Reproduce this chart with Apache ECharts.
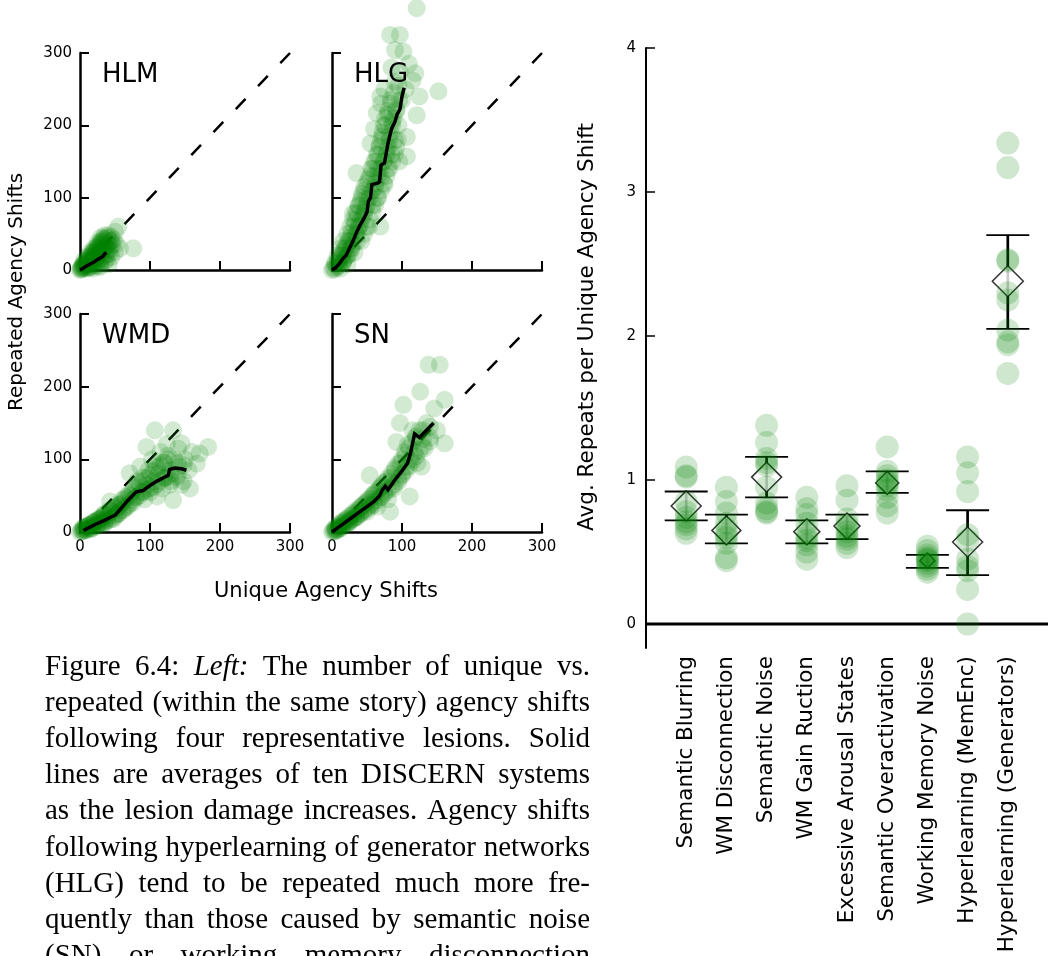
<!DOCTYPE html>
<html><head><meta charset="utf-8">
<script src="https://cdn.jsdelivr.net/npm/echarts@6/dist/echarts.min.js"></script>
<style>html,body{margin:0;padding:0;background:#fff}#c{width:1048px;height:956px}</style>
</head><body><div id="c"></div><script>
// ---------------- DATA ----------------
const panelNames = ['HLM', 'HLG', 'WMD', 'SN'];
const shiftTicks = [0, 100, 200, 300];
const diagonal = [[0, 0], [300, 300]];

const hlmPoints = [[0,0],[1,2],[2,1],[3,4],[4,2],[5,6],[6,3],[7,8],[8,5],[9,2],[10,10],[11,6],[12,3],[13,12],[14,8],[15,15],[16,5],[17,10],[18,18],[19,13],[20,7],[21,22],[22,16],[23,10],[24,26],[25,19],[26,13],[27,30],[28,22],[29,6],[30,34],[31,25],[32,17],[33,38],[34,28],[35,12],[36,42],[37,32],[38,22],[39,45],[40,36],[41,8],[42,40],[43,28],[44,46],[45,18],[46,35],[48,42],[50,53],[50,25],[52,36],[55,60],[57,30],[76,30],[20,30],[25,38],[30,45],[15,25],[10,18],[35,48],[40,48],[45,40],[5,12],[18,2],[28,4],[38,14],
  [2,4],[4,7],[6,9],[8,11],[10,14],[12,16],[14,19],[16,21],[18,24],[20,26],[22,28],[24,31],[26,34],[28,36],[30,39],[32,41],[34,44],[12,9],[16,13],[20,17],[24,21],[28,25],[32,29],[36,33],[40,29],[42,22],[36,20],[30,12],[24,6],[18,9],[14,4]];
const hlmMean = [[0,0],[4,2],[8,5],[12,7],[16,9],[20,11],[24,14],[28,16],[30,18],[33,19],[35,22],[38,24]];

const hlgPoints = [[0,0],[2,3],[4,1],[5,8],[7,4],[8,12],[10,6],[11,15],[12,2],[13,20],[15,10],[16,25],[17,14],[18,30],[20,18],[21,35],[22,8],[23,40],[25,22],[26,45],[27,30],[28,52],[30,36],[31,60],[32,24],[33,68],[35,48],[36,78],[37,55],[38,88],[40,62],[41,95],[42,40],[43,105],[45,75],[46,115],[48,85],[30,78],[35,134],[50,98],[52,125],[53,60],[55,108],[56,140],[58,90],[60,130],[60,150],[62,115],[64,160],[65,100],[66,140],[68,172],[69,60],[70,128],[72,185],[74,150],[75,118],[76,200],[78,165],[80,140],[80,215],[82,185],[84,230],[85,160],[86,205],[88,245],[90,180],[90,260],[92,222],[95,200],[97,274],[100,235],[102,302],[105,250],[107,184],[107,157],[110,285],[115,262],[121,214],[152,247],[125,240],[119,272],[97,325],[83,325],[90,304],[121,362],[85,280],[95,255],[70,230],[75,250],[55,175],[60,195],[64,217],[69,240],
  [4,10],[10,10],[16,10],[8,20],[15,20],[22,20],[12,30],[20,30],[28,30],[16,40],[26,40],[36,40],[22,50],[34,50],[46,50],[26,60],[38,60],[50,60],[30,70],[42,70],[54,70],[34,80],[46,80],[58,80],[38,90],[50,90],[62,90],[42,100],[54,100],[66,100],[46,110],[58,110],[70,110],[50,120],[62,120],[74,120],[54,130],[66,130],[78,130],[58,140],[70,140],[82,140],[62,150],[74,150],[86,150],[96,150],[66,160],[78,160],[90,160],[68,170],[80,170],[92,170],[70,180],[82,180],[94,180],[72,190],[84,190],[74,200],[86,200],[76,210],[88,210],[80,220],[92,220],[84,235],[96,235]];
const hlgMean = [[0,0],[5,3],[10,8],[15,15],[20,20],[25,30],[30,40],[35,52],[40,62],[45,70],[50,80],[52,95],[55,100],[57,118],[65,120],[68,122],[70,145],[75,148],[80,175],[85,195],[90,205],[93,215],[97,222],[100,240],[103,252]];

const wmdPoints = [[0,0],[2,3],[3,1],[5,5],[6,2],[8,3],[9,7],[10,8],[12,5],[13,10],[15,10],[16,4],[18,6],[19,13],[20,12],[22,15],[24,8],[25,10],[27,17],[28,18],[30,14],[31,9],[32,20],[34,24],[35,25],[35,12],[38,18],[40,22],[42,30],[43,42],[45,28],[48,18],[50,32],[52,24],[55,35],[55,25],[58,38],[60,40],[62,30],[65,45],[68,35],[71,81],[72,50],[75,40],[78,60],[80,48],[82,70],[86,90],[88,55],[90,75],[92,45],[95,117],[95,65],[98,85],[100,55],[103,100],[105,70],[107,140],[108,90],[110,49],[112,80],[115,110],[118,60],[120,95],[122,75],[124,121],[126,105],[128,65],[130,85],[133,140],[133,44],[135,100],[138,75],[140,115],[142,90],[145,122],[145,65],[150,100],[155,85],[157,60],[160,110],[167,94],[171,108],[183,117],
  [5,2],[5,6],[10,3],[10,8],[15,5],[15,10],[20,8],[20,14],[25,10],[25,16],[30,12],[30,20],[35,14],[35,22],[40,16],[40,26],[45,18],[45,30],[50,22],[50,34],[55,26],[55,38],[60,30],[60,44],[65,34],[65,48],[70,38],[70,52],[75,44],[75,56],[80,48],[80,62],[85,50],[85,66],[90,55],[90,70],[95,58],[95,74],[100,60],[100,78],[105,62],[105,84],[110,66],[110,88],[115,70],[115,92],[120,74],[120,96],[125,76],[125,100],[130,80],[130,70],[140,78],[140,95],[148,70],[148,92]];
const wmdMean = [[5,2],[15,7],[25,12],[35,16],[45,21],[50,23],[60,34],[67,42],[75,50],[80,55],[90,57],[100,64],[110,70],[120,75],[126,78],[128,86],[135,88],[145,87],[152,85]];

const snPoints = [[0,0],[2,3],[3,1],[5,5],[6,2],[8,3],[9,7],[10,8],[12,12],[13,5],[15,8],[17,12],[18,15],[20,10],[22,18],[24,13],[25,15],[28,22],[30,18],[32,25],[34,20],[35,20],[38,30],[40,25],[42,35],[45,30],[48,40],[50,28],[52,45],[54,78],[55,38],[58,50],[60,42],[62,55],[65,35],[68,60],[70,48],[72,65],[75,55],[78,70],[80,45],[83,28],[85,75],[88,60],[90,85],[92,124],[95,70],[97,150],[98,95],[100,80],[102,175],[104,110],[106,90],[108,120],[111,49],[112,100],[115,140],[118,110],[120,130],[122,95],[126,193],[128,90],[130,140],[132,115],[135,150],[138,230],[140,125],[146,170],[150,140],[154,230],[161,182],[161,122],
  [5,2],[5,6],[10,5],[10,10],[15,8],[15,14],[20,11],[20,18],[25,14],[25,22],[30,18],[30,26],[35,22],[35,30],[40,25],[40,34],[45,28],[45,38],[50,32],[50,42],[55,35],[55,46],[60,38],[60,52],[65,44],[65,56],[70,48],[70,62],[75,52],[75,68],[80,58],[80,74],[85,62],[85,80],[90,66],[90,88],[95,74],[95,94],[100,78],[100,100],[105,84],[105,106],[110,90],[110,116],[115,98],[115,124],[120,104],[120,132],[125,112],[125,140],[130,118],[130,128],[140,130],[140,145]];
const snMean = [[0,0],[10,7],[20,14],[30,21],[40,28],[50,35],[60,42],[68,50],[72,58],[76,63],[80,58],[85,65],[90,72],[100,84],[108,95],[112,108],[118,135],[125,130],[135,140],[145,150]];

const lesionCategories = ['Semantic Blurring', 'WM Disconnection', 'Semantic Noise', 'WM Gain Ruction', 'Excessive Arousal States', 'Semantic Overactivation', 'Working Memory Noise', 'Hyperlearning (MemEnc)', 'Hyperlearning (Generators)'];
const lesionValues = [
  [1.09, 1.03, 1.02, 0.85, 0.78, 0.74, 0.71, 0.69, 0.66, 0.63],
  [0.95, 0.85, 0.77, 0.70, 0.66, 0.62, 0.60, 0.56, 0.46, 0.44],
  [1.38, 1.26, 1.15, 1.12, 1.10, 0.95, 0.84, 0.80, 0.78, 0.77],
  [0.88, 0.80, 0.76, 0.70, 0.64, 0.60, 0.58, 0.55, 0.50, 0.45],
  [0.96, 0.86, 0.73, 0.69, 0.67, 0.64, 0.61, 0.59, 0.56, 0.53],
  [1.23, 1.06, 1.03, 1.00, 0.98, 0.96, 0.93, 0.88, 0.82, 0.77],
  [0.54, 0.51, 0.48, 0.46, 0.45, 0.44, 0.42, 0.40, 0.38, 0.36],
  [1.16, 1.05, 0.92, 0.62, 0.58, 0.45, 0.40, 0.37, 0.24, 0.00],
  [3.34, 3.17, 2.53, 2.52, 2.30, 2.25, 2.04, 1.96, 1.94, 1.74]
];
const lesionMeans = [0.82, 0.65, 1.02, 0.64, 0.68, 0.98, 0.44, 0.57, 2.38];
const lesionLower = [0.72, 0.56, 0.88, 0.56, 0.59, 0.91, 0.39, 0.34, 2.05];
const lesionUpper = [0.92, 0.76, 1.16, 0.72, 0.76, 1.06, 0.48, 0.79, 2.70];
const repeatTicks = [0, 1, 2, 3, 4];
const zeroLine = [[-1, 0], [9, 0]];

const captionLines = [
  'Figure 6.4: Left: The number of unique vs.',
  'repeated (within the same story) agency shifts',
  'following four representative lesions. Solid',
  'lines are averages of ten DISCERN systems',
  'as the lesion damage increases. Agency shifts',
  'following hyperlearning of generator networks',
  '(HLG) tend to be repeated much more fre-',
  'quently than those caused by semantic noise',
  '(SN) or working memory disconnection'
];

// ---------------- STYLE / LAYOUT ----------------
const FONT = 'DejaVu Sans';
const diamondSizes = [30, 29, 30, 26, 26, 23, 15, 30, 31];
const panels = [
  {name: panelNames[0], pts: hlmPoints, mean: hlmMean, left: 80, top: 53, h: 217, xl: false, yl: true},
  {name: panelNames[1], pts: hlgPoints, mean: hlgMean, left: 332, top: 53, h: 217, xl: false, yl: false},
  {name: panelNames[2], pts: wmdPoints, mean: wmdMean, left: 80, top: 314, h: 218, xl: true, yl: true},
  {name: panelNames[3], pts: snPoints, mean: snMean, left: 332, top: 314, h: 218, xl: true, yl: false}
];

const grids = [], xAxes = [], yAxes = [], series = [], graphic = [];
function valAxis(gi, showLabel) {
  return {
    type: 'value', gridIndex: gi, min: 0, max: 300, interval: 100,
    axisLine: {show: true, onZero: false, lineStyle: {color: '#000', width: 2.5}},
    axisTick: {show: true, inside: true, length: 9, customValues: shiftTicks, lineStyle: {color: '#000', width: 2}},
    axisLabel: {show: showLabel, margin: 8, fontSize: 15, color: '#000', fontFamily: FONT, customValues: shiftTicks},
    splitLine: {show: false}
  };
}
panels.forEach((p, gi) => {
  grids.push({left: p.left, top: p.top, width: 210, height: p.h});
  xAxes.push(valAxis(gi, p.xl));
  yAxes.push(valAxis(gi, p.yl));
  series.push({type: 'line', xAxisIndex: gi, yAxisIndex: gi, data: diagonal, symbol: 'none', silent: true, z: 1,
    lineStyle: {color: '#000', width: 2.5, type: [14, 18]}});
  series.push({type: 'scatter', xAxisIndex: gi, yAxisIndex: gi, data: p.pts, symbolSize: 18, clip: false, silent: true, z: 2,
    itemStyle: {color: 'rgba(0,128,0,0.22)'}});
  series.push({type: 'line', xAxisIndex: gi, yAxisIndex: gi, data: p.mean, symbol: 'none', silent: true, z: 3, clip: false,
    lineStyle: {color: '#000', width: 3.5, join: 'miter'}});
  graphic.push({type: 'text', x: p.left + 22, y: p.top + 22, z: 10,
    style: {text: p.name, font: '26px "DejaVu Sans"', fill: '#000', textAlign: 'left', textVerticalAlign: 'middle'}});
});

// right panel
grids.push({left: 646, top: 48, width: 411, height: 600});
xAxes.push({
  type: 'value', gridIndex: 4, min: -1, max: 9, interval: 1,
  axisLine: {show: false}, axisTick: {show: false}, splitLine: {show: false},
  axisLabel: {show: true, rotate: 90, margin: 8, fontSize: 21.5, color: '#000', fontFamily: FONT,
    showMinLabel: true, showMaxLabel: true,
    formatter: v => lesionCategories[Math.round(v)] || ''}
});
yAxes.push({
  type: 'value', gridIndex: 4, min: -1 / 6, max: 4,
  axisLine: {show: true, onZero: false, lineStyle: {color: '#000', width: 2}},
  axisTick: {show: true, inside: true, length: 9, customValues: repeatTicks, lineStyle: {color: '#000', width: 1.5}},
  axisLabel: {show: true, margin: 10, fontSize: 15, color: '#000', fontFamily: FONT, customValues: repeatTicks},
  splitLine: {show: false}
});
series.push({type: 'line', xAxisIndex: 4, yAxisIndex: 4, data: zeroLine, symbol: 'none', silent: true, z: 1,
  lineStyle: {color: '#000', width: 3}});
series.push({
  type: 'custom', xAxisIndex: 4, yAxisIndex: 4, silent: true, z: 2,
  data: lesionMeans.map((m, i) => [i, lesionLower[i], lesionUpper[i]]),
  renderItem: (params, api) => {
    const lo = api.coord([api.value(0), api.value(1)]);
    const hi = api.coord([api.value(0), api.value(2)]);
    const hw = 21.5;
    return {type: 'group', children: [
      {type: 'line', shape: {x1: lo[0], y1: lo[1], x2: hi[0], y2: hi[1]}, style: {stroke: '#000', lineWidth: 2.7}},
      {type: 'line', shape: {x1: lo[0] - hw, y1: lo[1], x2: lo[0] + hw, y2: lo[1]}, style: {stroke: '#000', lineWidth: 1.8}},
      {type: 'line', shape: {x1: hi[0] - hw, y1: hi[1], x2: hi[0] + hw, y2: hi[1]}, style: {stroke: '#000', lineWidth: 1.8}}
    ]};
  }
});
series.push({type: 'scatter', xAxisIndex: 4, yAxisIndex: 4, silent: true, z: 3,
  data: lesionMeans.map((m, i) => [i, m]), symbol: 'diamond',
  symbolSize: (v, params) => diamondSizes[params.dataIndex],
  itemStyle: {color: '#fff', borderColor: '#000', borderWidth: 1.5}});
const flatPts = [];
lesionValues.forEach((arr, i) => arr.forEach(v => flatPts.push([i, v])));
series.push({type: 'scatter', xAxisIndex: 4, yAxisIndex: 4, silent: true, z: 4, clip: false,
  data: flatPts, symbolSize: 23, itemStyle: {color: 'rgba(0,128,0,0.24)'}});

// axis titles
graphic.push({type: 'text', x: 17, y: 292, rotation: Math.PI / 2,
  style: {text: 'Repeated Agency Shifts', font: '20px "DejaVu Sans"', fill: '#000', textAlign: 'center', textVerticalAlign: 'middle'}});
graphic.push({type: 'text', x: 326, y: 592,
  style: {text: 'Unique Agency Shifts', font: '21px "DejaVu Sans"', fill: '#000', textAlign: 'center', textVerticalAlign: 'middle'}});
graphic.push({type: 'text', x: 587, y: 327, rotation: Math.PI / 2,
  style: {text: 'Avg. Repeats per Unique Agency Shift', font: '21.5px "DejaVu Sans"', fill: '#000', textAlign: 'center', textVerticalAlign: 'middle'}});

// caption (justified)
const capLeft = 45, capRight = 590, capMid0 = 667, capStep = 36.2;
const mctx = document.createElement('canvas').getContext('2d');
captionLines.forEach((line, li) => {
  const words = line.split(' ');
  const fonts = words.map(w => (w === 'Left:' ? 'italic ' : '') + '29px "Liberation Serif"');
  const widths = words.map((w, i) => { mctx.font = fonts[i]; return mctx.measureText(w).width; });
  const total = widths.reduce((a, b) => a + b, 0);
  const gap = (capRight - capLeft - total) / (words.length - 1);
  let x = capLeft;
  words.forEach((w, i) => {
    graphic.push({type: 'text', x: x, y: capMid0 + li * capStep,
      style: {text: w, font: fonts[i], fill: '#000', textAlign: 'left', textVerticalAlign: 'middle'}});
    x += widths[i] + gap;
  });
});

const chart = echarts.init(document.getElementById('c'), null, {renderer: 'canvas'});
chart.setOption({
  animation: false,
  backgroundColor: '#fff',
  textStyle: {fontFamily: FONT},
  grid: grids, xAxis: xAxes, yAxis: yAxes, series: series, graphic: graphic
});
</script></body></html>
